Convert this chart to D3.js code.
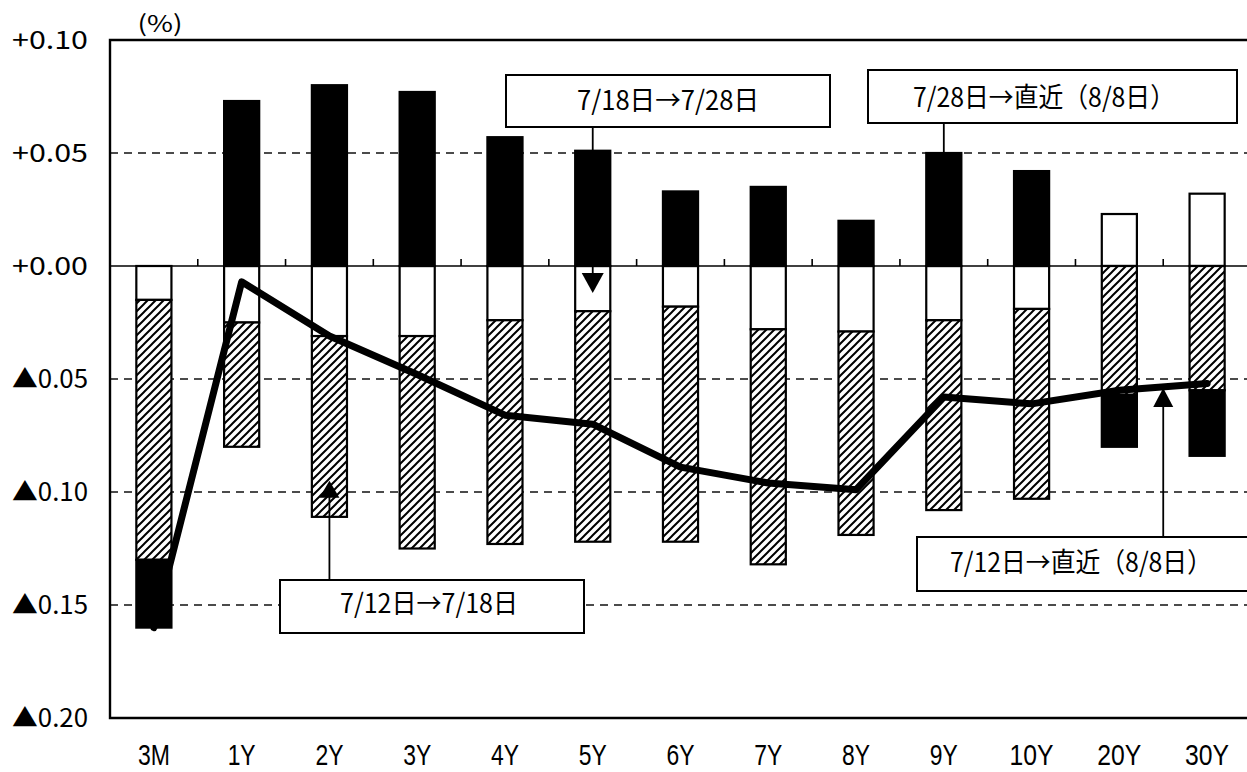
<!DOCTYPE html>
<html><head><meta charset="utf-8">
<script src="https://cdn.jsdelivr.net/npm/d3@7"></script>
<style>
html,body{margin:0;padding:0;background:#fff;}
svg{display:block;}
text{font-family:"Noto Sans CJK JP","DejaVu Sans",sans-serif;fill:#000;}
</style></head><body>
<svg id="chart" width="1247" height="772"></svg>
<script>
// ---- data (%pt changes) ----
const categories = ["3M","1Y","2Y","3Y","4Y","5Y","6Y","7Y","8Y","9Y","10Y","20Y","30Y"];
const chg0712to0718 = [-0.115,-0.055,-0.080,-0.094,-0.099,-0.102,-0.104,-0.104,-0.090,-0.084,-0.084,-0.057,-0.055]; // hatched
const chg0718to0728 = [-0.015,-0.025,-0.031,-0.031,-0.024,-0.020,-0.018,-0.028,-0.029,-0.024,-0.019,0.023,0.032];      // white
const chg0728toLatest = [-0.030,0.073,0.080,0.077,0.057,0.051,0.033,0.035,0.020,0.050,0.042,-0.023,-0.029];           // black
const chg0712toLatest = [-0.160,-0.007,-0.031,-0.048,-0.066,-0.070,-0.089,-0.096,-0.099,-0.058,-0.061,-0.055,-0.052]; // line
const yTickValues = [0.10,0.05,0.00,-0.05,-0.10,-0.15,-0.20];
const yTickLabels = ["+0.10","+0.05","+0.00","▲0.05","▲0.10","▲0.15","▲0.20"];
const gridValues = [0.05,-0.05,-0.10,-0.15];
const unitLabel = "(%)";
const labelA = "7/18日→7/28日";
const labelB = "7/28日→直近（8/8日）";
const labelC = "7/12日→7/18日";
const labelD = "7/12日→直近（8/8日）";

// ---- layout ----
const svg = d3.select("#chart");
const L = 110, R = 1251, T = 40, B = 718;
const x = d3.scaleBand().domain(categories).range([L, R]).paddingInner(0.6).paddingOuter(0.3);
const y = d3.scaleLinear().domain([-0.20, 0.10]).range([B, T]);
const step = x.step();
const cx = c => x(c) + x.bandwidth()/2;

const defs = svg.append("defs");
const pat = defs.append("pattern").attr("id","hatch").attr("patternUnits","userSpaceOnUse")
  .attr("width",8).attr("height",8);
pat.append("rect").attr("width",8).attr("height",8).attr("fill","#fff");
pat.append("path").attr("d","M-1,1 L1,-1 M0,8 L8,0 M7,9 L9,7").attr("stroke","#000").attr("stroke-width",2);

// gridlines
svg.append("g").selectAll("line").data(gridValues).join("line")
  .attr("x1",L).attr("x2",R).attr("y1",d=>y(d)).attr("y2",d=>y(d))
  .attr("stroke","#111").attr("stroke-width",1.3).attr("stroke-dasharray","8,6");

// stacked bars
const rows = categories.map((c,i)=>({cat:c, white:chg0718to0728[i], hatch:chg0712to0718[i], black:chg0728toLatest[i]}));
const stack = d3.stack().keys(["white","hatch","black"]).offset(d3.stackOffsetDiverging)(rows);
const fills = {white:"#fff", hatch:"url(#hatch)", black:"#000"};
const gb = svg.append("g");
stack.forEach(s => {
  gb.append("g").selectAll("rect").data(s).join("rect")
    .attr("x", d=>x(d.data.cat))
    .attr("width", x.bandwidth())
    .attr("y", d=>y(Math.max(d[0],d[1])))
    .attr("height", d=>Math.abs(y(d[0])-y(d[1])))
    .attr("fill", fills[s.key])
    .attr("stroke","#000").attr("stroke-width",2.2);
});

// zero line with ticks at category boundaries
svg.append("line").attr("x1",L).attr("x2",R).attr("y1",y(0)).attr("y2",y(0))
  .attr("stroke","#000").attr("stroke-width",1.6);
svg.append("g").selectAll("line").data(categories.slice(1)).join("line")
  .attr("x1",d=>x(d)-step*0.3).attr("x2",d=>x(d)-step*0.3)
  .attr("y1",y(0)).attr("y2",y(0)-7)
  .attr("stroke","#000").attr("stroke-width",1.6);

// frame
svg.append("path").attr("d",`M${R},${T} H${L} V${B} H${R}`).attr("fill","none")
  .attr("stroke","#000").attr("stroke-width",2.4);

// y labels
svg.append("g").selectAll("text").data(yTickValues).join("text")
  .attr("x",88).attr("y",d=>y(d)+9).attr("text-anchor","end")
  .attr("font-size",25)
  .attr("textLength",76).attr("lengthAdjust","spacingAndGlyphs")
  .text((d,i)=>yTickLabels[i]);
svg.append("text").attr("x",160).attr("y",32).attr("text-anchor","middle")
  .attr("font-size",23).attr("textLength",45).attr("lengthAdjust","spacingAndGlyphs").text(unitLabel);

// x labels
svg.append("g").selectAll("text").data(categories).join("text")
  .attr("x",d=>cx(d)).attr("y",765).attr("text-anchor","middle")
  .style("font-family","'Liberation Sans',Arial,sans-serif")
  .attr("font-size",30)
  .attr("textLength",d=>d.length===2?(d==="3M"?32:28):44).attr("lengthAdjust","spacingAndGlyphs")
  .text(d=>d);

// line (7/12 -> latest)
const lineGen = d3.line().x((d,i)=>cx(categories[i])).y(d=>y(d));
svg.append("path").attr("d",lineGen(chg0712toLatest)).attr("fill","none")
  .attr("stroke","#000").attr("stroke-width",7).attr("stroke-linejoin","round").attr("stroke-linecap","round");

// annotations
const ga = svg.append("g");
function box(x0,y0,x1,y1,txt,tx,ty,tl){
  ga.append("rect").attr("x",x0).attr("y",y0).attr("width",x1-x0).attr("height",y1-y0)
    .attr("fill","#fff").attr("stroke","#000").attr("stroke-width",2);
  ga.append("text").attr("x",tx).attr("y",ty).attr("text-anchor","middle").attr("font-size",27)
    .attr("textLength",tl).attr("lengthAdjust","spacingAndGlyphs").text(txt);
}
function leader(xp,y0,y1){
  ga.append("line").attr("x1",xp).attr("x2",xp).attr("y1",y0).attr("y2",y1).attr("stroke","#000").attr("stroke-width",1.8);
}
function tri(xp,tip,dir,w,h){ // dir 1 = down, -1 = up
  ga.append("path").attr("d",`M${xp},${tip} L${xp-w/2},${tip-dir*h} L${xp+w/2},${tip-dir*h} Z`).attr("fill","#000");
}
// A: 7/18 -> 7/28 (white segment, 5Y)
const xa = cx("5Y");
leader(xa,127,y(0)+10);
tri(xa,y(0)+27,1,22,20);
box(506,75,830,127,labelA,668,110,182);
// B: 7/28 -> latest (black segment, 9Y)
const xb = cx("9Y");
leader(xb,123,y(0.045));
box(868,70,1237,123,labelB,1044,107,262);
// C: 7/12 -> 7/18 (hatched segment, 2Y)
const xc = cx("2Y");
leader(xc,580,y(-0.099));
tri(xc,y(-0.095),-1,20,17);
box(280,580,584,633,labelC,429,613,178);
// D: 7/12 -> latest (line)
const xd = x("30Y") - step*0.3;
leader(xd,537,y(-0.062));
tri(xd,y(-0.054),-1,20,19);
box(917,537,1262,591,labelD,1081,572,262);
</script>
</body></html>
